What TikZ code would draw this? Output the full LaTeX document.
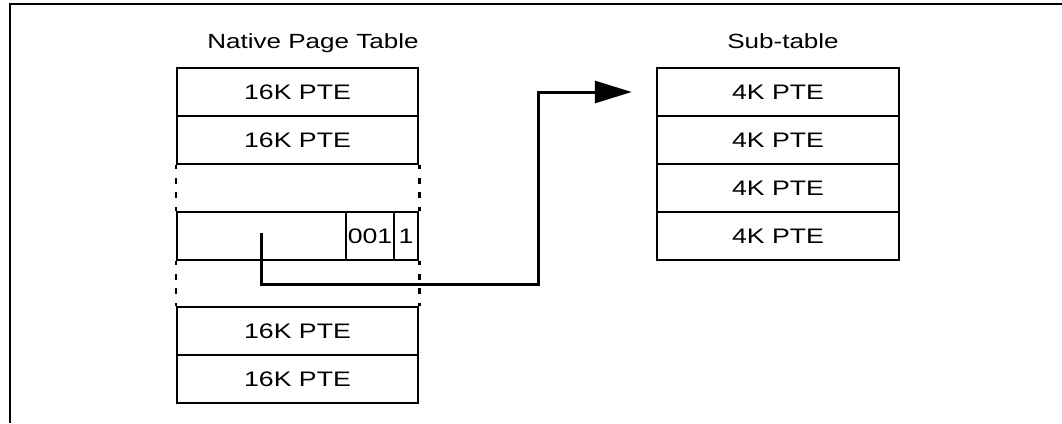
\documentclass[tikz,border=0pt]{standalone}
\usepackage{fontspec}
\setmainfont{Liberation Sans}[FakeStretch=1.27]
\usetikzlibrary{arrows.meta}
\begin{document}
\begin{tikzpicture}[x=1pt,y=-1pt,
  cell/.style={draw,line width=2.5pt,inner sep=0pt,minimum height=48pt,
    font=\fontsize{21pt}{25pt}\selectfont},
  nrow/.style={cell,minimum width=241pt},
  srow/.style={cell,minimum width=242pt},
  title/.style={anchor=base,inner sep=0pt,font=\fontsize{20.5pt}{24pt}\selectfont},
  gapline/.style={line width=2.5pt,dash pattern=on 6pt off 8.5pt,dash phase=2pt},
  ptr/.style={line width=3pt,-{Triangle[length=37pt,width=22pt]}},
  frame/.style={line width=2pt}]
\useasboundingbox (0,0) rectangle (1062,423);
% frame
\draw[frame] (10,423) -- (10,4) -- (1062,4);
% titles
\node[title] (ntitle) at (313,48) {Native Page Table};
\node[title] (stitle) at (783,48) {Sub-table};
% native page table
\node[nrow] (n1) at (297.5,92) {16K PTE};
\node[nrow] (n2) at (297.5,140) {16K PTE};
\node[cell,minimum width=169pt] (f0) at (261.5,236) {};
\node[cell,minimum width=48pt] (f1) at (370,236) {001};
\node[cell,minimum width=24pt] (f2) at (406,236) {1};
\node[nrow] (n4) at (297.5,331) {16K PTE};
\node[nrow] (n5) at (297.5,379) {16K PTE};
% dashed gaps
\draw[gapline] (n2.south west) -- (f0.north west);
\draw[gapline] (n2.south east) -- (f2.north east);
\draw[gapline] (f0.south west) -- (n4.north west);
\draw[gapline] (f2.south east) -- (n4.north east);
% sub-table
\node[srow] (s1) at (778,92) {4K PTE};
\node[srow] (s2) at (778,140) {4K PTE};
\node[srow] (s3) at (778,188) {4K PTE};
\node[srow] (s4) at (778,236) {4K PTE};
% pointer
\coordinate (src) at (261,233);
\coordinate (bend) at (538,284);
\coordinate (tip) at ([xshift=-24pt]s1.west);
\draw[ptr] (src) |- (bend) |- (tip);
\end{tikzpicture}
\end{document}
